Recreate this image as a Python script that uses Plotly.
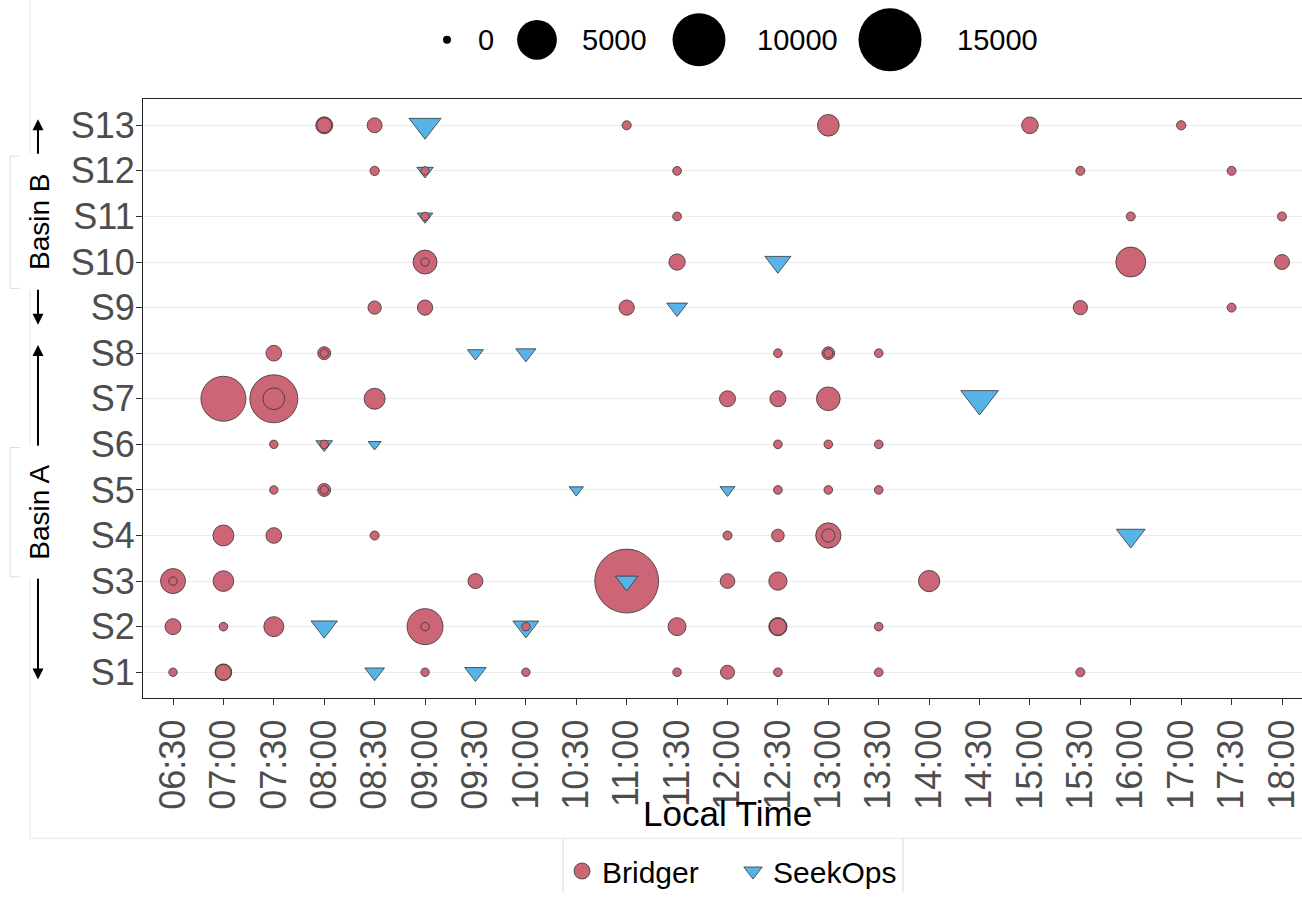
import numpy as np
import plotly.graph_objects as go

# ---------------------------------------------------------------- data
times = ["06:30", "07:00", "07:30", "08:00", "08:30", "09:00", "09:30", "10:00",
         "10:30", "11:00", "11:30", "12:00", "12:30", "13:00", "13:30", "14:00",
         "14:30", "15:00", "15:30", "16:00", "17:00", "17:30", "18:00"]
sites = ["S1", "S2", "S3", "S4", "S5", "S6", "S7", "S8", "S9", "S10", "S11", "S12", "S13"]

# Bridger detections (site, local time, emission rate)
bridger_site = ["S13", "S13", "S13", "S13", "S13", "S13", "S13",
                "S12", "S12", "S12", "S12", "S12",
                "S11", "S11", "S11", "S11",
                "S10", "S10", "S10", "S10", "S10",
                "S9", "S9", "S9", "S9", "S9",
                "S8", "S8", "S8", "S8", "S8", "S8", "S8",
                "S7", "S7", "S7", "S7", "S7", "S7", "S7",
                "S6", "S6", "S6", "S6", "S6",
                "S5", "S5", "S5", "S5", "S5", "S5",
                "S4", "S4", "S4", "S4", "S4", "S4", "S4",
                "S3", "S3", "S3", "S3", "S3", "S3", "S3", "S3",
                "S2", "S2", "S2", "S2", "S2", "S2", "S2", "S2", "S2", "S2",
                "S1", "S1", "S1", "S1", "S1", "S1", "S1", "S1", "S1", "S1"]
bridger_time = ["08:00", "08:00", "08:30", "11:00", "13:00", "15:00", "17:00",
                "08:30", "09:00", "11:30", "15:30", "17:30",
                "09:00", "11:30", "16:00", "18:00",
                "09:00", "09:00", "11:30", "16:00", "18:00",
                "08:30", "09:00", "11:00", "15:30", "17:30",
                "07:30", "08:00", "08:00", "12:30", "13:00", "13:00", "13:30",
                "07:00", "07:30", "07:30", "08:30", "12:00", "12:30", "13:00",
                "07:30", "08:00", "12:30", "13:00", "13:30",
                "07:30", "08:00", "08:00", "12:30", "13:00", "13:30",
                "07:00", "07:30", "08:30", "12:00", "12:30", "13:00", "13:00",
                "06:30", "06:30", "07:00", "09:30", "11:00", "12:00", "12:30", "14:00",
                "06:30", "07:00", "07:30", "09:00", "09:00", "10:00", "11:30", "12:30", "12:30", "13:30",
                "06:30", "07:00", "07:00", "09:00", "10:00", "11:30", "12:00", "12:30", "13:30", "15:30"]
bridger_rate = [400, 240, 240, 6, 930, 375, 8,
                8, 1, 3, 5, 5,
                1, 3, 5, 5,
                1270, 1, 340, 2400, 243,
                140, 264, 264, 197, 5,
                294, 124, 1, 2, 110, 4, 2,
                6790, 7930, 930, 838, 317, 317, 1222,
                1, 1, 2, 2, 2,
                1, 124, 1, 2, 2, 2,
                838, 294, 5, 5, 110, 1480, 140,
                1430, 1, 800, 243, 15500, 222, 526, 877,
                317, 2, 714, 3890, 1, 1, 496, 526, 400, 2,
                1, 375, 294, 1, 1, 2, 179, 2, 2, 5]

# SeekOps detections (site, local time, emission rate)
seekops_site = ["S13", "S12", "S11", "S10", "S9", "S8", "S8", "S7", "S6", "S6",
                "S5", "S5", "S4", "S3", "S2", "S2", "S1", "S1"]
seekops_time = ["09:00", "09:00", "09:00", "12:30", "11:30", "09:30", "10:00", "14:30", "08:00", "08:30",
                "10:30", "12:00", "16:00", "11:00", "08:00", "10:00", "08:30", "09:30"]
seekops_rate = [1000, 57, 42, 496, 203, 48, 173, 1607, 64, 5,
                18, 29, 714, 300, 526, 496, 156, 236]

size_breaks = [0, 5000, 10000, 15000]

# ---------------------------------------------------------------- styling
W, H = 1302, 897
BRIDGER_COLOR = "#CC6677"
SEEKOPS_COLOR = "#56B4E9"
EDGE_COLOR = "#333333"
D_MIN, D_MAX, RATE_MAX = 8.0, 63.0, 15000.0
TRI_FACTOR = 1.25


def diameter(rate):
    """Area-style size scale: diameter grows with sqrt(rate)."""
    return D_MIN + (D_MAX - D_MIN) * np.sqrt(np.asarray(rate, dtype=float) / RATE_MAX)


# combine both platforms into one layer, larger marks drawn first
rows = []
for s, t, r in zip(bridger_site, bridger_time, bridger_rate):
    d = float(diameter(r))
    rows.append((d, s, t, r, "circle", BRIDGER_COLOR, d))
for s, t, r in zip(seekops_site, seekops_time, seekops_rate):
    d = float(diameter(r))
    rows.append((d, s, t, r, "triangle-down", SEEKOPS_COLOR, d * TRI_FACTOR))
rows.sort(key=lambda row: -row[0])

fig = go.Figure()

fig.add_trace(go.Scatter(
    x=[r[2] for r in rows], y=[r[1] for r in rows],
    mode="markers",
    marker=dict(symbol=[r[4] for r in rows], color=[r[5] for r in rows],
                size=[r[6] for r in rows],
                line=dict(color=EDGE_COLOR, width=0.8), opacity=1),
    customdata=[r[3] for r in rows],
    hovertemplate="%{y} %{x}<br>%{customdata}<extra></extra>",
    showlegend=False,
))

# legend entries for the two platforms
fig.add_trace(go.Scatter(x=[None], y=[None], mode="markers", name="Bridger",
                         marker=dict(symbol="circle", color=BRIDGER_COLOR, size=16, opacity=1,
                                     line=dict(color=EDGE_COLOR, width=0.8))))
fig.add_trace(go.Scatter(x=[None], y=[None], mode="markers", name="SeekOps",
                         marker=dict(symbol="triangle-down", color=SEEKOPS_COLOR, size=16, opacity=1,
                                     line=dict(color=EDGE_COLOR, width=0.8))))

# size key along the top
key_x = [447, 537, 699, 890]
label_x = [476, 580, 755, 955]
KEY_Y = 40
fig.add_trace(go.Scatter(
    x=key_x, y=[KEY_Y] * len(size_breaks), xaxis="x2", yaxis="y2",
    mode="markers", showlegend=False, hoverinfo="skip",
    marker=dict(symbol="circle", color="#000000", size=diameter(size_breaks), opacity=1,
                line=dict(width=0)),
))
annotations = []
for lx, v in zip(label_x, size_breaks):
    annotations.append(dict(x=lx, y=KEY_Y, xref="x2", yref="y2", text=str(v), showarrow=False,
                            xanchor="left", yanchor="middle",
                            font=dict(size=29, color="black", family="Liberation Sans, Arial")))

# axis title
annotations.append(dict(x=728 / W, y=(H - 818) / H, xref="paper", yref="paper", text="Local Time",
                        showarrow=False, xanchor="center", yanchor="middle",
                        font=dict(size=35, color="black", family="Liberation Sans, Arial")))

# basin brackets on the left
ARROW_X = 38 / W
for top, bottom in [(120, 327), (347, 683)]:
    annotations.append(dict(x=ARROW_X, y=(H - top) / H, xref="paper", yref="paper",
                            ax=0, ay=bottom - top, axref="pixel", ayref="pixel",
                            text="", showarrow=True, arrowside="end+start",
                            arrowhead=2, arrowsize=1.1, arrowwidth=2, arrowcolor="black",
                            standoff=0, startstandoff=0))
for label, y0, y1 in [("Basin B", 157, 290), ("Basin A", 450, 580)]:
    annotations.append(dict(x=40 / W, y=(H - (y0 + y1) / 2) / H, xref="paper", yref="paper",
                            text=label, showarrow=False, textangle=-90,
                            width=y1 - y0, height=36, bgcolor="white",
                            xanchor="center", yanchor="middle",
                            font=dict(size=28, color="black", family="Liberation Sans, Arial")))

# faint panel edges
LIGHT = "#e6e6e6"
shapes = [
    dict(type="line", xref="paper", yref="paper", x0=30 / W, x1=30 / W, y0=(H - 843) / H, y1=1,
         line=dict(color=LIGHT, width=1)),
    dict(type="line", xref="paper", yref="paper", x0=30 / W, x1=1, y0=(H - 843) / H, y1=(H - 843) / H,
         line=dict(color=LIGHT, width=1)),
    dict(type="line", xref="paper", yref="paper", x0=563 / W, x1=563 / W, y0=0, y1=(H - 843) / H,
         line=dict(color="#d9d9d9", width=1)),
    dict(type="line", xref="paper", yref="paper", x0=903 / W, x1=903 / W, y0=0, y1=(H - 843) / H,
         line=dict(color="#d9d9d9", width=1)),
]
for y0, y1 in [(157, 290), (450, 580)]:
    shapes.append(dict(type="path", xref="paper", yref="paper",
                       path=f"M {30 / W},{(H - y0) / H} L {10 / W},{(H - y0) / H} "
                            f"L {10 / W},{(H - y1) / H} L {30 / W},{(H - y1) / H}",
                       line=dict(color="#dedede", width=1)))

PLOT_L, PLOT_T, PLOT_B = 143, 100, 702
x_unit = (1282 - 173) / (len(times) - 1)
y_unit = (676 - 126) / (len(sites) - 1)

TICK_FONT = dict(size=36, color="#4d4d4d", family="Liberation Sans, Arial")

fig.update_layout(
    width=W, height=H,
    margin=dict(l=0, r=0, t=0, b=0),
    paper_bgcolor="white", plot_bgcolor="rgba(0,0,0,0)",
    xaxis=dict(domain=[PLOT_L / W, 1], type="category", categoryorder="array", categoryarray=times,
               range=[-(173 - PLOT_L) / x_unit, (len(times) - 1) + (W - 1282) / x_unit],
               showgrid=False, zeroline=False, showline=True, linecolor="#222222", linewidth=1.2,
               mirror=True, ticks="outside", ticklen=6, tickcolor="#333333", tickwidth=1,
               tickangle=-90, tickfont=TICK_FONT, anchor="y"),
    yaxis=dict(domain=[(H - PLOT_B) / H, (H - PLOT_T) / H], type="category", categoryorder="array",
               categoryarray=sites,
               range=[-(PLOT_B - 676) / y_unit, (len(sites) - 1) + (126 - PLOT_T) / y_unit],
               showgrid=True, gridcolor="#ebebeb", gridwidth=1.2, zeroline=False,
               showline=True, linecolor="#222222", linewidth=1.2,
               ticks="outside", ticklen=6, tickcolor="#333333", tickwidth=1,
               ticklabelstandoff=-6,
               tickfont=TICK_FONT, anchor="x"),
    xaxis2=dict(domain=[0, 1], range=[0, W], visible=False, anchor="y2", fixedrange=True),
    yaxis2=dict(domain=[(H - 80) / H, 1], range=[80, 0], visible=False, anchor="x2", fixedrange=True),
    showlegend=True,
    legend=dict(orientation="h", x=562 / W, xanchor="left", y=(H - 850) / H, yanchor="top",
                entrywidth=126, entrywidthmode="pixels",
                font=dict(size=30, color="black", family="Liberation Sans, Arial"),
                bgcolor="rgba(0,0,0,0)", borderwidth=0, itemsizing="trace"),
    annotations=annotations,
    shapes=shapes,
)

fig.write_html("out.html")
